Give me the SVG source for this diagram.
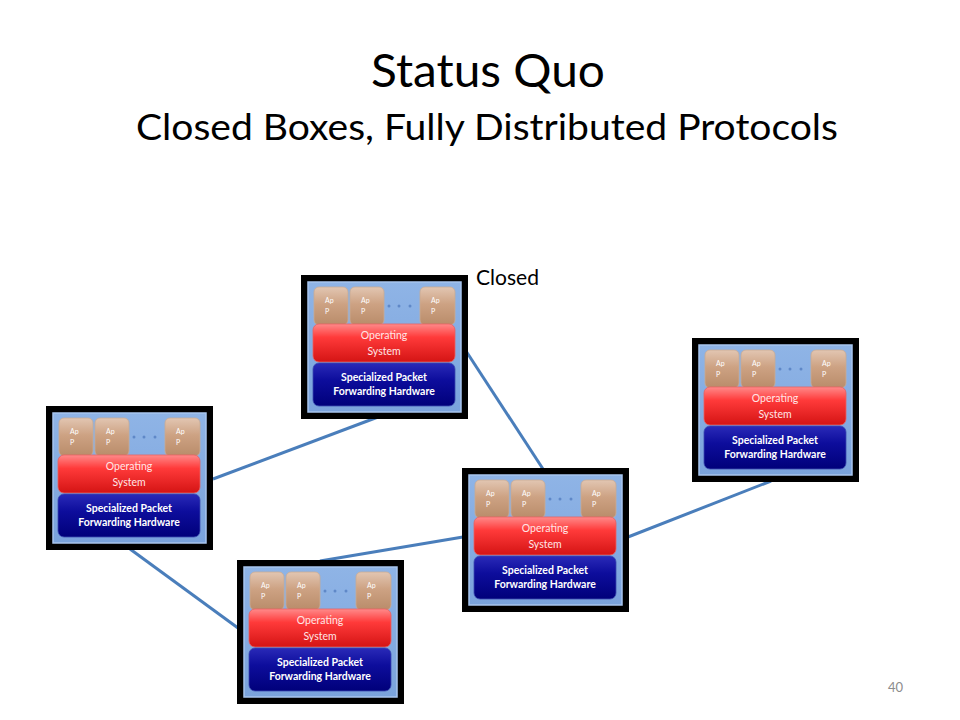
<svg xmlns="http://www.w3.org/2000/svg" width="960" height="720" viewBox="0 0 960 720">
<defs>
<linearGradient id="gInner" x1="0" y1="0" x2="0" y2="1">
<stop offset="0" stop-color="#8fb4e6"/><stop offset="1" stop-color="#7aa3dc"/>
</linearGradient>
<linearGradient id="gApp" x1="0" y1="0" x2="0" y2="1">
<stop offset="0" stop-color="#e2c6b2"/><stop offset="0.45" stop-color="#cda283"/><stop offset="1" stop-color="#b98c6a"/>
</linearGradient>
<linearGradient id="gOs" x1="0" y1="0" x2="0" y2="1">
<stop offset="0" stop-color="#ff8a8a"/><stop offset="0.35" stop-color="#ff3a3a"/><stop offset="1" stop-color="#d41414"/>
</linearGradient>
<linearGradient id="gHw" x1="0" y1="0" x2="0" y2="1">
<stop offset="0" stop-color="#2a2ab8"/><stop offset="0.4" stop-color="#0d0d9c"/><stop offset="1" stop-color="#00007a"/>
</linearGradient>
</defs>
<style>
.title{font-family:Lato,"Open Sans","Liberation Sans",sans-serif;fill:#000;text-anchor:middle}
.frame{fill:#000}
.inner{fill:url(#gInner);stroke:#a8c5ee;stroke-width:1.5}
.app{fill:url(#gApp);stroke:#c8ab96;stroke-width:0.8}
.os{fill:url(#gOs);stroke:#e86060;stroke-width:0.8}
.hw{fill:url(#gHw);stroke:#3a4ab0;stroke-width:0.8}
.dot{fill:#5f88c8}
.at{font-family:Lato,"Liberation Sans",sans-serif;font-size:7px;fill:#fff}
.ot{font-family:Lato,"Liberation Sans",sans-serif;font-size:10.5px;fill:#ffe6e6;text-anchor:middle}
.ht{font-family:Lato,"Liberation Sans",sans-serif;font-size:10.5px;font-weight:bold;fill:#fff;text-anchor:middle}
.conn line{stroke:#4a7ebb;stroke-width:3;fill:none}
</style>
<rect width="960" height="720" fill="#fff"/>
<text class="title" x="488" y="87" font-size="47" textLength="234" lengthAdjust="spacingAndGlyphs">Status Quo</text>
<text class="title" x="487" y="140" font-size="37" textLength="702" lengthAdjust="spacingAndGlyphs">Closed Boxes, Fully Distributed Protocols</text>
<text x="476" y="285" font-family="Lato,'Open Sans','Liberation Sans',sans-serif" font-size="21" textLength="63" lengthAdjust="spacingAndGlyphs" fill="#000">Closed</text>
<text x="888" y="692" font-family="Lato,'Liberation Sans',sans-serif" font-size="13" fill="#8c8c8c">40</text>
<g class="conn" id="connectors">
<line x1="213" y1="479" x2="378" y2="417"/>
<line x1="466" y1="351" x2="543" y2="469"/>
<line x1="130" y1="549" x2="238" y2="628"/>
<line x1="320" y1="561" x2="463" y2="537"/>
<line x1="628" y1="537" x2="771" y2="481"/>
</g>
<g id="node-top" transform="translate(301,275)">
<rect class="frame" x="0" y="0" width="167" height="144"/>
<rect class="inner" x="7" y="7" width="153" height="130"/>
<rect class="app" x="13" y="12" width="34" height="38" rx="5"/>
<rect class="app" x="49" y="12" width="34" height="38" rx="5"/>
<rect class="app" x="119" y="12" width="35" height="38" rx="5"/>
<circle class="dot" cx="88" cy="31" r="1.5"/><circle class="dot" cx="98" cy="31" r="1.5"/><circle class="dot" cx="109" cy="31" r="1.5"/>
<text class="at" x="24" y="28">Ap</text><text class="at" x="24" y="39">P</text>
<text class="at" x="60" y="28">Ap</text><text class="at" x="60" y="39">P</text>
<text class="at" x="130" y="28">Ap</text><text class="at" x="130" y="39">P</text>
<rect class="os" x="12" y="49" width="142" height="38" rx="6"/>
<text class="ot" x="83" y="64">Operating</text><text class="ot" x="83" y="80">System</text>
<rect class="hw" x="12" y="88" width="142" height="43" rx="6"/>
<text class="ht" x="83" y="106">Specialized Packet</text><text class="ht" x="83" y="120">Forwarding Hardware</text>
</g>
<g id="node-left" transform="translate(46,406)">
<rect class="frame" x="0" y="0" width="167" height="144"/>
<rect class="inner" x="7" y="7" width="153" height="130"/>
<rect class="app" x="13" y="12" width="34" height="38" rx="5"/>
<rect class="app" x="49" y="12" width="34" height="38" rx="5"/>
<rect class="app" x="119" y="12" width="35" height="38" rx="5"/>
<circle class="dot" cx="88" cy="31" r="1.5"/><circle class="dot" cx="98" cy="31" r="1.5"/><circle class="dot" cx="109" cy="31" r="1.5"/>
<text class="at" x="24" y="28">Ap</text><text class="at" x="24" y="39">P</text>
<text class="at" x="60" y="28">Ap</text><text class="at" x="60" y="39">P</text>
<text class="at" x="130" y="28">Ap</text><text class="at" x="130" y="39">P</text>
<rect class="os" x="12" y="49" width="142" height="38" rx="6"/>
<text class="ot" x="83" y="64">Operating</text><text class="ot" x="83" y="80">System</text>
<rect class="hw" x="12" y="88" width="142" height="43" rx="6"/>
<text class="ht" x="83" y="106">Specialized Packet</text><text class="ht" x="83" y="120">Forwarding Hardware</text>
</g>
<g id="node-right" transform="translate(692,338)">
<rect class="frame" x="0" y="0" width="167" height="144"/>
<rect class="inner" x="7" y="7" width="153" height="130"/>
<rect class="app" x="13" y="12" width="34" height="38" rx="5"/>
<rect class="app" x="49" y="12" width="34" height="38" rx="5"/>
<rect class="app" x="119" y="12" width="35" height="38" rx="5"/>
<circle class="dot" cx="88" cy="31" r="1.5"/><circle class="dot" cx="98" cy="31" r="1.5"/><circle class="dot" cx="109" cy="31" r="1.5"/>
<text class="at" x="24" y="28">Ap</text><text class="at" x="24" y="39">P</text>
<text class="at" x="60" y="28">Ap</text><text class="at" x="60" y="39">P</text>
<text class="at" x="130" y="28">Ap</text><text class="at" x="130" y="39">P</text>
<rect class="os" x="12" y="49" width="142" height="38" rx="6"/>
<text class="ot" x="83" y="64">Operating</text><text class="ot" x="83" y="80">System</text>
<rect class="hw" x="12" y="88" width="142" height="43" rx="6"/>
<text class="ht" x="83" y="106">Specialized Packet</text><text class="ht" x="83" y="120">Forwarding Hardware</text>
</g>
<g id="node-middle" transform="translate(462,468)">
<rect class="frame" x="0" y="0" width="167" height="144"/>
<rect class="inner" x="7" y="7" width="153" height="130"/>
<rect class="app" x="13" y="12" width="34" height="38" rx="5"/>
<rect class="app" x="49" y="12" width="34" height="38" rx="5"/>
<rect class="app" x="119" y="12" width="35" height="38" rx="5"/>
<circle class="dot" cx="88" cy="31" r="1.5"/><circle class="dot" cx="98" cy="31" r="1.5"/><circle class="dot" cx="109" cy="31" r="1.5"/>
<text class="at" x="24" y="28">Ap</text><text class="at" x="24" y="39">P</text>
<text class="at" x="60" y="28">Ap</text><text class="at" x="60" y="39">P</text>
<text class="at" x="130" y="28">Ap</text><text class="at" x="130" y="39">P</text>
<rect class="os" x="12" y="49" width="142" height="38" rx="6"/>
<text class="ot" x="83" y="64">Operating</text><text class="ot" x="83" y="80">System</text>
<rect class="hw" x="12" y="88" width="142" height="43" rx="6"/>
<text class="ht" x="83" y="106">Specialized Packet</text><text class="ht" x="83" y="120">Forwarding Hardware</text>
</g>
<g id="node-bottom" transform="translate(237,560)">
<rect class="frame" x="0" y="0" width="167" height="144"/>
<rect class="inner" x="7" y="7" width="153" height="130"/>
<rect class="app" x="13" y="12" width="34" height="38" rx="5"/>
<rect class="app" x="49" y="12" width="34" height="38" rx="5"/>
<rect class="app" x="119" y="12" width="35" height="38" rx="5"/>
<circle class="dot" cx="88" cy="31" r="1.5"/><circle class="dot" cx="98" cy="31" r="1.5"/><circle class="dot" cx="109" cy="31" r="1.5"/>
<text class="at" x="24" y="28">Ap</text><text class="at" x="24" y="39">P</text>
<text class="at" x="60" y="28">Ap</text><text class="at" x="60" y="39">P</text>
<text class="at" x="130" y="28">Ap</text><text class="at" x="130" y="39">P</text>
<rect class="os" x="12" y="49" width="142" height="38" rx="6"/>
<text class="ot" x="83" y="64">Operating</text><text class="ot" x="83" y="80">System</text>
<rect class="hw" x="12" y="88" width="142" height="43" rx="6"/>
<text class="ht" x="83" y="106">Specialized Packet</text><text class="ht" x="83" y="120">Forwarding Hardware</text>
</g>
</svg>
